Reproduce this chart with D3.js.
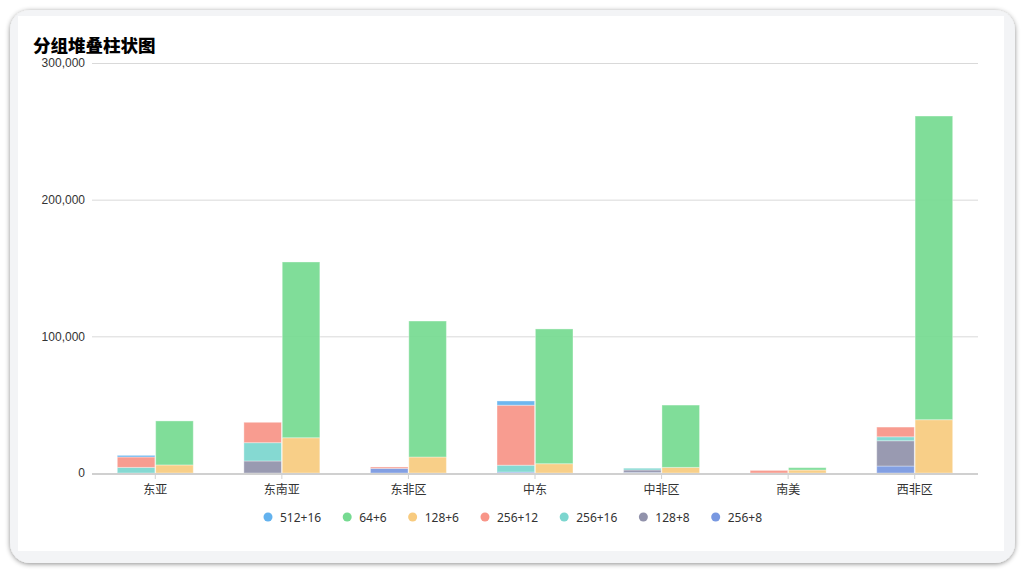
<!DOCTYPE html>
<html><head><meta charset="utf-8">
<script src="https://cdn.jsdelivr.net/npm/d3@7/dist/d3.min.js"></script>
<style>
html,body{margin:0;padding:0;background:#fff;}
svg{display:block;font-family:"Noto Sans","Noto Sans CJK SC",sans-serif;}
</style></head>
<body>
<svg id="c" width="1025" height="574"></svg>
<script>
const categories = ['东亚','东南亚','东非区','中东','中非区','南美','西非区'];
const seriesNames = ['512+16','64+6','128+6','256+12','256+16','128+8','256+8'];
const s512_16 = [1200, 0, 0, 3100, 0, 0, 0];
const s64_6   = [32200, 128600, 99500, 98600, 45600, 1700, 222200];
const s128_6  = [5900, 25800, 11700, 6800, 4100, 2200, 39000];
const s256_12 = [7600, 14900, 1000, 43900, 0, 1900, 7100];
const s256_16 = [4100, 13400, 0, 5000, 1300, 0, 2900];
const s128_8  = [0, 8800, 0, 0, 1800, 0, 18500];
const s256_8  = [0, 0, 3400, 700, 400, 0, 5100];
const yTicks = [0, 100000, 200000, 300000];
const colors = ['#63b2ee','#76da91','#f8cb7f','#f89588','#7cd6cf','#9192ab','#7898e1'];

const seriesValues = {'512+16':s512_16,'64+6':s64_6,'128+6':s128_6,'256+12':s256_12,'256+16':s256_16,'128+8':s128_8,'256+8':s256_8};
const color = d3.scaleOrdinal().domain(seriesNames).range(colors);

const svg = d3.select('#c');
// card
const defs = svg.append('defs');
const f = defs.append('filter').attr('id','sh').attr('x','-5%').attr('y','-5%').attr('width','110%').attr('height','110%');
f.append('feDropShadow').attr('dx',0).attr('dy',1).attr('stdDeviation',2.5).attr('flood-color','#000').attr('flood-opacity',0.45);
svg.append('rect').attr('x',10).attr('y',10).attr('width',1005).attr('height',553).attr('rx',20).attr('fill','#f3f4f6').attr('filter','url(#sh)');
svg.append('rect').attr('x',18).attr('y',16).attr('width',986).attr('height',535).attr('fill','#fff');

svg.append('text').attr('x',33).attr('y',52).text('分组堆叠柱状图')
  .attr('font-family','"Noto Sans CJK SC",sans-serif').attr('font-weight','900').attr('font-size',17.5).attr('fill','#000');

const x0 = d3.scaleBand().domain(categories).range([92,978]).paddingInner(0).paddingOuter(0);
const bw = x0.bandwidth();
const x1 = d3.scaleBand().domain(['L','R']).range([bw*0.2, bw*0.8]).paddingInner(0.02);
const y = d3.scaleLinear().domain([0,300000]).range([473,63]);

// grid
const yAxis = d3.axisLeft(y).tickValues(yTicks).tickFormat(d3.format(',')).tickSize(0).tickPadding(7);
const gy = svg.append('g').attr('transform','translate(92,0)').call(yAxis);
gy.select('.domain').remove();
gy.selectAll('text').attr('font-size',12).attr('fill','#333');
svg.append('g').selectAll('line').data(yTicks.filter(d=>d>0)).join('line')
  .attr('x1',92).attr('x2',978).attr('y1',d=>y(d)+0.5).attr('y2',d=>y(d)+0.5).attr('stroke','#d9d9d9').attr('stroke-width',1);

// stacks
const stackData = categories.map((c,i)=>{const o={cat:c}; seriesNames.forEach(s=>o[s]=seriesValues[s][i]); return o;});
const leftOrder = ['256+8','128+8','256+16','256+12','512+16'];
const rightOrder = ['128+6','64+6'];
const barsG = svg.append('g');
[['L',leftOrder],['R',rightOrder]].forEach(([k,order])=>{
  const st = d3.stack().keys(order)(stackData);
  st.forEach(layer=>{
    barsG.append('g').attr('fill',color(layer.key)).attr('fill-opacity',0.93).selectAll('rect').data(layer).join('rect')
      .attr('x',d=>x0(d.data.cat)+x1(k))
      .attr('width',x1.bandwidth())
      .attr('y',d=>y(d[1]))
      .attr('height',d=>Math.max(0,y(d[0])-y(d[1])))
      .attr('stroke','#fff').attr('stroke-opacity',0.35).attr('stroke-width',1);
  });
});

// x axis
const xAxis = d3.axisBottom(x0).tickSize(5).tickPadding(6);
const gx = svg.append('g').attr('transform','translate(0,474)').call(xAxis);
gx.select('.domain').attr('stroke','#d0d0d0').attr('stroke-width',2).attr('d','M92,0H978');
gx.selectAll('.tick line').attr('stroke','#d0d0d0');
gx.selectAll('text').attr('font-size',12).attr('fill','#333').attr('font-family','"Noto Sans CJK SC",sans-serif');

// legend
const lg = svg.append('g');
let cx = 0;
seriesNames.forEach(s=>{
  const g = lg.append('g');
  g.append('circle').attr('cx',cx).attr('cy',0).attr('r',4.5).attr('fill',color(s));
  const t = g.append('text').attr('x',cx+12).attr('y',4.5).text(s).attr('font-size',12).attr('fill','#333');
  const w = t.node().getComputedTextLength();
  cx += 12 + w + 26;
});
const totalW = cx - 26;
lg.attr('transform',`translate(${511 - totalW/2 + 4},517)`);
</script>
</body></html>
